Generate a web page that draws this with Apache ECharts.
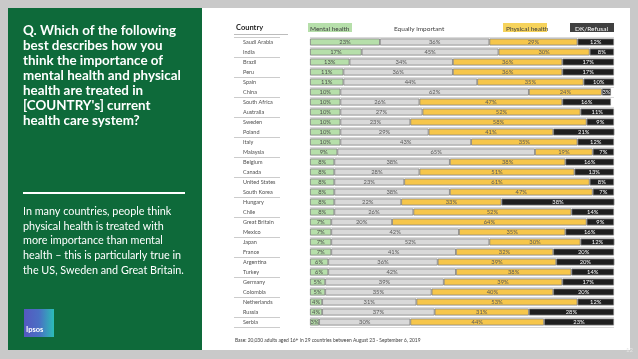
<!DOCTYPE html>
<html><head><meta charset="utf-8">
<script src="https://cdn.jsdelivr.net/npm/echarts@6/dist/echarts.min.js"></script>
<style>html,body{margin:0;padding:0;background:#c9c9c9}#c{width:638px;height:359px}</style>
</head><body><div id="c"></div>
<script>
const countries = ["Saudi Arabia","India","Brazil","Peru","Spain","China","South Africa","Australia","Sweden","Poland","Italy","Malaysia","Belgium","Canada","United States","South Korea","Hungary","Chile","Great Britain","Mexico","Japan","France","Argentina","Turkey","Germany","Colombia","Netherlands","Russia","Serbia"];
const mental   = [23,17,13,11,11,10,10,10,10,10,10,9,8,8,8,8,8,8,7,7,7,7,6,6,5,5,4,4,3];
const equally  = [36,45,34,36,44,62,26,27,23,29,43,65,38,28,23,38,22,26,20,42,52,41,36,42,39,35,31,37,30];
const physical = [29,30,36,36,35,24,47,52,58,41,35,19,38,51,61,47,33,52,64,35,30,32,39,38,39,40,53,31,44];
const dk       = [12,8,17,17,10,3,16,11,9,21,12,7,16,13,8,7,38,14,9,16,12,20,20,14,17,20,12,28,23];
const seriesNames = ["Mental health","Equally important","Physical health","DK/Refusal"];

const FONT = 'Lato';
const colors = ['#b6dfaa','#d9d9d9','#f6c64b','#1f1f1f'];
const labelColors = ['#4d4d4d','#595959','#595959','#ffffff'];
const allData = [mental, equally, physical, dk];

const chart = echarts.init(document.getElementById('c'), null, {renderer:'canvas'});
const gridTop = 37, gridH = 290;

const series = allData.map((d,i)=>({
  name: seriesNames[i], type:'bar', stack:'all', data:d, barWidth:7,
  xAxisIndex:0, yAxisIndex:0,
  itemStyle:{color:colors[i], borderColor:'#7f7f7f', borderWidth:0.8},
  label:{show:true, position:'inside', formatter:'{c}%', fontFamily:FONT, fontSize:5.8, color:labelColors[i]},
  silent:true, animation:false
}));

chart.setOption({
  animation:false,
  backgroundColor:'#c9c9c9',
  grid:[
    {left:310, top:gridTop, width:304, height:gridH},
    {left:234, top:gridTop, width:46, height:gridH}
  ],
  xAxis:[
    {type:'value', min:0, max:100, show:false, gridIndex:0},
    {type:'value', min:0, max:1, show:false, gridIndex:1}
  ],
  yAxis:[
    {type:'category', data:countries, inverse:true, gridIndex:0,
     axisLine:{show:false}, axisTick:{show:false},
     axisLabel:{show:true, align:'left', margin:67, fontFamily:FONT, fontSize:5.5, color:'#505050'},
     splitLine:{show:true, lineStyle:{color:'#d0d0d0', width:0.8}}},
    {type:'category', data:countries, inverse:true, gridIndex:1,
     axisLine:{show:false}, axisTick:{show:false}, axisLabel:{show:false},
     splitLine:{show:true, lineStyle:{color:'#bfbfbf', width:0.8}}}
  ],
  graphic:[
    {type:'rect', z:-10, shape:{x:202,y:8,width:428,height:342}, style:{fill:'#ffffff'}},
    {type:'rect', z:-10, shape:{x:8,y:8,width:194,height:342}, style:{fill:'#0e6a3a'}},
    {type:'text', left:23, top:23, style:{text:"Q. Which of the following\nbest describes how you\nthink the importance of\nmental health and physical\nhealth are treated in\n[COUNTRY's] current\nhealth care system?", fill:'#ffffff', font:'bold 13.4px '+FONT, lineHeight:15}},
    {type:'rect', shape:{x:23,y:192,width:162,height:2}, style:{fill:'#ffffff'}},
    {type:'text', left:23, top:204, style:{text:"In many countries, people think\nphysical health is treated with\nmore importance than mental\nhealth – this is particularly true in\nthe US, Sweden and Great Britain.", fill:'#ffffff', font:'10.8px '+FONT, lineHeight:14.8}},
    {type:'rect', shape:{x:24,y:309,width:30,height:28}, style:{fill:{type:'linear',x:0,y:0,x2:1,y2:0,colorStops:[{offset:0,color:'#5558c0'},{offset:0.5,color:'#4a6fc4'},{offset:1,color:'#2bbdb7'}]}}},
    {type:'text', left:26, top:326, style:{text:'Ipsos', fill:'#ffffff', font:'bold 7.5px '+FONT}},
    {type:'text', left:236, top:24, style:{text:'Country', fill:'#262626', font:'bold 7.5px '+FONT}},
    {type:'rect', shape:{x:234,y:34,width:54,height:0.8}, style:{fill:'#a6a6a6'}},
    {type:'rect', shape:{x:308,y:23,width:44,height:9}, style:{fill:'#b6dfaa'}},
    {type:'text', left:310, top:25, style:{text:'Mental health', fill:'#404040', font:'6.5px '+FONT}},
    {type:'text', left:394, top:25, style:{text:'Equally important', fill:'#404040', font:'6.5px '+FONT}},
    {type:'rect', shape:{x:503,y:23,width:44,height:9}, style:{fill:'#f6d35c'}},
    {type:'text', left:506, top:25, style:{text:'Physical health', fill:'#404040', font:'6.5px '+FONT}},
    {type:'rect', shape:{x:570,y:23,width:44,height:9}, style:{fill:'#404040'}},
    {type:'text', left:575, top:25, style:{text:'DK/Refusal', fill:'#ffffff', font:'6.5px '+FONT}},
    {type:'text', left:235, top:338, style:{text:'Base: 20,030 adults aged 16+ in 29 countries between August 23 - September 6, 2019', fill:'#404040', font:'4.9px '+FONT}},
    {type:'text', left:626, top:347, style:{text:'12', fill:'#e6e6e6', font:'6px '+FONT}}
  ],
  series: series
});
</script></body></html>
